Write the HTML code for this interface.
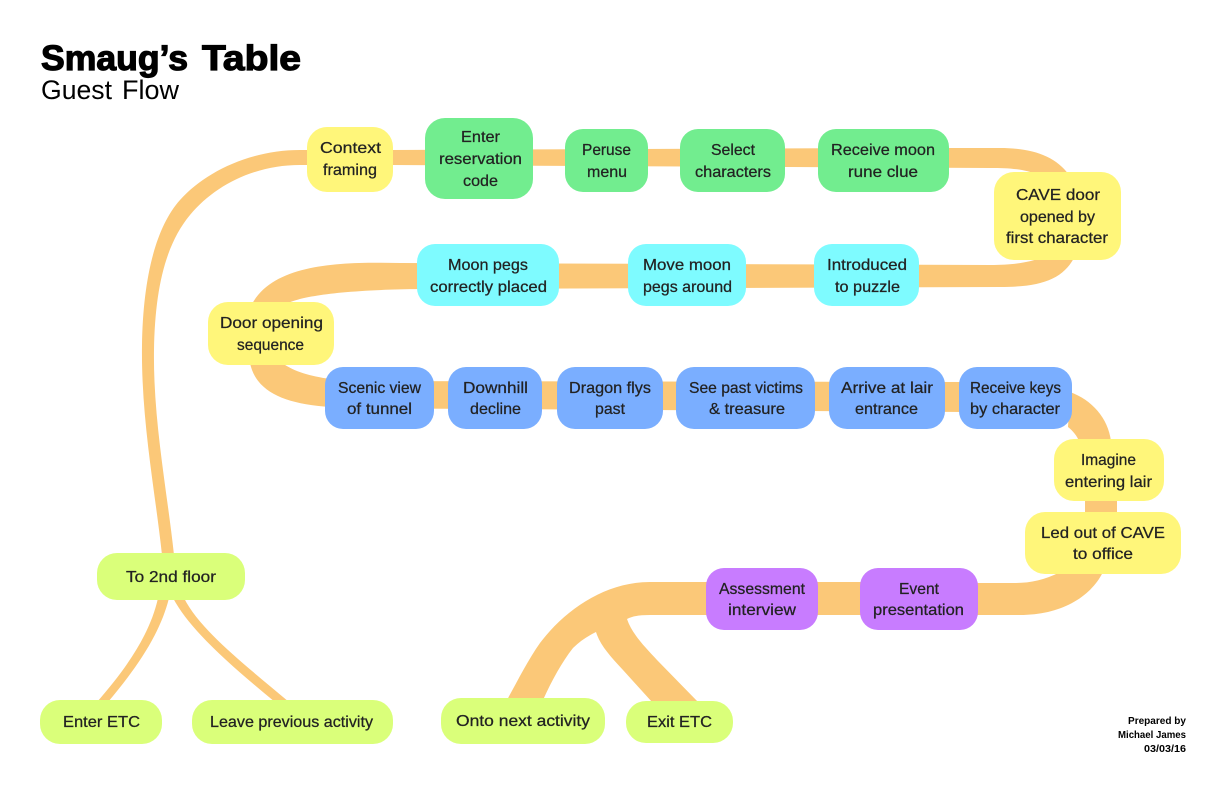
<!DOCTYPE html>
<html><head><meta charset="utf-8"><title>Smaug's Table</title>
<style>
html,body{margin:0;padding:0;background:#fff}
svg{display:block}
text{font-family:"Liberation Sans",sans-serif;font-size:16px;fill:#222;stroke:#222;stroke-width:.25}
text.s{font-size:10.5px;fill:#000;stroke:none;font-weight:bold}
.p{fill:#FBC878}
</style></head><body>
<svg width="1224" height="792" viewBox="0 0 1224 792" xmlns="http://www.w3.org/2000/svg">
<rect width="1224" height="792" fill="#fff"/>
<path class="p" d="M310 150L300 150C250 150 205 172 180 200C155 228 143 280 142 345C141 420 155 490 162 555L174 555C167 490 153 420 154 350C155 290 165 245 190 215C215 185 255 165 300 165L310 165Z"/>
<path class="p" d="M390 150L900 148L1000 148C1030 148 1055 155 1069 175L1038 175C1025 169 1010 168 990 168L390 165Z"/>
<path class="p" d="M1040 258C1030 262 1015 265 990 265L700 264L400 263C345 262 275 262 252 304L286 304C297 298 330 290 420 289L1000 287C1040 287 1062 280 1074 258Z"/>
<path class="p" d="M250 363C256 392 285 404 330 407L330 379C310 376 295 372 282 363Z"/>
<path class="p" d="M330 381L965 382L965 412L330 408Z"/>
<path class="p" d="M1070 392C1092 400 1108 418 1111 441L1079 441C1077 436 1073 431 1068 427Z"/>
<rect class="p" x="1085" y="499" width="32" height="15"/>
<path class="p" d="M1060 572C1045 580 1030 583 1015 583L975 583L975 615L1020 615C1060 615 1090 598 1103 572Z"/>
<path class="p" d="M870 582L650 582C605 582 565 610 540 643C528 660 518 680 507 700L543 700C552 680 562 662 573 648C580 641 588 636 596 632C600 645 610 656 623 670L652 702L698 702L657 660C645 647 632 634 627 619C633 616 640 615 650 615L870 615Z"/>
<path class="p" d="M158 598C150 635 125 670 97 702L108 702C135 670 160 635 169 598Z"/>
<path class="p" d="M173 598C190 630 230 665 275 702L289 702C245 665 200 630 184 598Z"/>

<g fill="#FFF67A">
<rect x="307" y="127" width="86" height="65" rx="20"/>
<rect x="994" y="172" width="127" height="88" rx="20"/>
<rect x="208" y="302" width="126" height="63" rx="20"/>
<rect x="1054" y="439" width="110" height="62" rx="20"/>
<rect x="1025" y="512" width="156" height="62" rx="20"/>
</g>
<g fill="#72ED8F">
<rect x="425" y="118" width="108" height="81" rx="20"/>
<rect x="565" y="129" width="83" height="63" rx="18"/>
<rect x="680" y="129" width="105" height="63" rx="18"/>
<rect x="818" y="129" width="131" height="63" rx="18"/>
</g>
<g fill="#7EFBFF">
<rect x="417" y="244" width="142" height="62" rx="18"/>
<rect x="628" y="244" width="118" height="62" rx="18"/>
<rect x="814" y="244" width="105" height="62" rx="18"/>
</g>
<g fill="#7AAEFF">
<rect x="325" y="367" width="109" height="62" rx="18"/>
<rect x="448" y="367" width="94" height="62" rx="18"/>
<rect x="557" y="367" width="106" height="62" rx="18"/>
<rect x="676" y="367" width="139" height="62" rx="18"/>
<rect x="829" y="367" width="116" height="62" rx="18"/>
<rect x="959" y="367" width="113" height="62" rx="18"/>
</g>
<g fill="#C87CFF">
<rect x="706" y="568" width="112" height="62" rx="18"/>
<rect x="860" y="568" width="118" height="62" rx="18"/>
</g>
<g fill="#DAFF7A">
<rect x="97" y="553" width="148" height="47" rx="20"/>
<rect x="40" y="700" width="122" height="44" rx="20"/>
<rect x="192" y="700" width="201" height="44" rx="20"/>
<rect x="441" y="698" width="164" height="46" rx="20"/>
<rect x="626" y="701" width="107" height="42" rx="20"/>
</g>

<text x="41" y="70" textLength="147" lengthAdjust="spacingAndGlyphs" style="font-size:35px;font-weight:bold;fill:#000;stroke:#000;stroke-width:1.2">Smaug’s</text>
<text x="202" y="70" textLength="99" lengthAdjust="spacingAndGlyphs" style="font-size:35px;font-weight:bold;fill:#000;stroke:#000;stroke-width:1.2">Table</text>
<text x="41" y="99" textLength="71" lengthAdjust="spacingAndGlyphs" style="font-size:27px;fill:#000;stroke:none">Guest</text>
<text x="122" y="99" textLength="57" lengthAdjust="spacingAndGlyphs" style="font-size:27px;fill:#000;stroke:none">Flow</text>

<text x="320" y="153" textLength="61" lengthAdjust="spacingAndGlyphs">Context</text>
<text x="323" y="175" textLength="54" lengthAdjust="spacingAndGlyphs">framing</text>
<text x="461" y="142" textLength="39" lengthAdjust="spacingAndGlyphs">Enter</text>
<text x="439" y="164" textLength="83" lengthAdjust="spacingAndGlyphs">reservation</text>
<text x="463" y="186" textLength="35" lengthAdjust="spacingAndGlyphs">code</text>
<text x="582" y="155" textLength="49" lengthAdjust="spacingAndGlyphs">Peruse</text>
<text x="587" y="177" textLength="40" lengthAdjust="spacingAndGlyphs">menu</text>
<text x="711" y="155" textLength="44" lengthAdjust="spacingAndGlyphs">Select</text>
<text x="695" y="177" textLength="76" lengthAdjust="spacingAndGlyphs">characters</text>
<text x="831" y="155" textLength="104" lengthAdjust="spacingAndGlyphs">Receive moon</text>
<text x="848" y="177" textLength="70" lengthAdjust="spacingAndGlyphs">rune clue</text>
<text x="1016" y="200" textLength="84" lengthAdjust="spacingAndGlyphs">CAVE door</text>
<text x="1020" y="222" textLength="75" lengthAdjust="spacingAndGlyphs">opened by</text>
<text x="1006" y="243" textLength="102" lengthAdjust="spacingAndGlyphs">first character</text>
<text x="448" y="270" textLength="80" lengthAdjust="spacingAndGlyphs">Moon pegs</text>
<text x="430" y="292" textLength="117" lengthAdjust="spacingAndGlyphs">correctly placed</text>
<text x="643" y="270" textLength="88" lengthAdjust="spacingAndGlyphs">Move moon</text>
<text x="643" y="292" textLength="89" lengthAdjust="spacingAndGlyphs">pegs around</text>
<text x="827" y="270" textLength="80" lengthAdjust="spacingAndGlyphs">Introduced</text>
<text x="835" y="292" textLength="65" lengthAdjust="spacingAndGlyphs">to puzzle</text>
<text x="220" y="328" textLength="103" lengthAdjust="spacingAndGlyphs">Door opening</text>
<text x="237" y="350" textLength="67" lengthAdjust="spacingAndGlyphs">sequence</text>
<text x="338" y="393" textLength="83" lengthAdjust="spacingAndGlyphs">Scenic view</text>
<text x="347" y="414" textLength="65" lengthAdjust="spacingAndGlyphs">of tunnel</text>
<text x="463" y="393" textLength="65" lengthAdjust="spacingAndGlyphs">Downhill</text>
<text x="470" y="414" textLength="51" lengthAdjust="spacingAndGlyphs">decline</text>
<text x="569" y="393" textLength="82" lengthAdjust="spacingAndGlyphs">Dragon flys</text>
<text x="595" y="414" textLength="30" lengthAdjust="spacingAndGlyphs">past</text>
<text x="689" y="393" textLength="114" lengthAdjust="spacingAndGlyphs">See past victims</text>
<text x="709" y="414" textLength="76" lengthAdjust="spacingAndGlyphs">&amp; treasure</text>
<text x="841" y="393" textLength="92" lengthAdjust="spacingAndGlyphs">Arrive at lair</text>
<text x="855" y="414" textLength="63" lengthAdjust="spacingAndGlyphs">entrance</text>
<text x="970" y="393" textLength="91" lengthAdjust="spacingAndGlyphs">Receive keys</text>
<text x="970" y="414" textLength="90" lengthAdjust="spacingAndGlyphs">by character</text>
<text x="1081" y="465" textLength="55" lengthAdjust="spacingAndGlyphs">Imagine</text>
<text x="1065" y="487" textLength="87" lengthAdjust="spacingAndGlyphs">entering lair</text>
<text x="1041" y="538" textLength="124" lengthAdjust="spacingAndGlyphs">Led out of CAVE</text>
<text x="1073" y="559" textLength="60" lengthAdjust="spacingAndGlyphs">to office</text>
<text x="719" y="594" textLength="86" lengthAdjust="spacingAndGlyphs">Assessment</text>
<text x="728" y="615" textLength="68" lengthAdjust="spacingAndGlyphs">interview</text>
<text x="899" y="594" textLength="40" lengthAdjust="spacingAndGlyphs">Event</text>
<text x="873" y="615" textLength="91" lengthAdjust="spacingAndGlyphs">presentation</text>
<text x="126" y="582" textLength="90" lengthAdjust="spacingAndGlyphs">To 2nd floor</text>
<text x="63" y="727" textLength="77" lengthAdjust="spacingAndGlyphs">Enter ETC</text>
<text x="210" y="727" textLength="163" lengthAdjust="spacingAndGlyphs">Leave previous activity</text>
<text x="456" y="726" textLength="134" lengthAdjust="spacingAndGlyphs">Onto next activity</text>
<text x="647" y="727" textLength="65" lengthAdjust="spacingAndGlyphs">Exit ETC</text>
<text class="s" x="1128" y="724" textLength="58" lengthAdjust="spacingAndGlyphs">Prepared by</text>
<text class="s" x="1118" y="738" textLength="68" lengthAdjust="spacingAndGlyphs">Michael James</text>
<text class="s" x="1144" y="752" textLength="42" lengthAdjust="spacingAndGlyphs">03/03/16</text>
</svg>
</body></html>
